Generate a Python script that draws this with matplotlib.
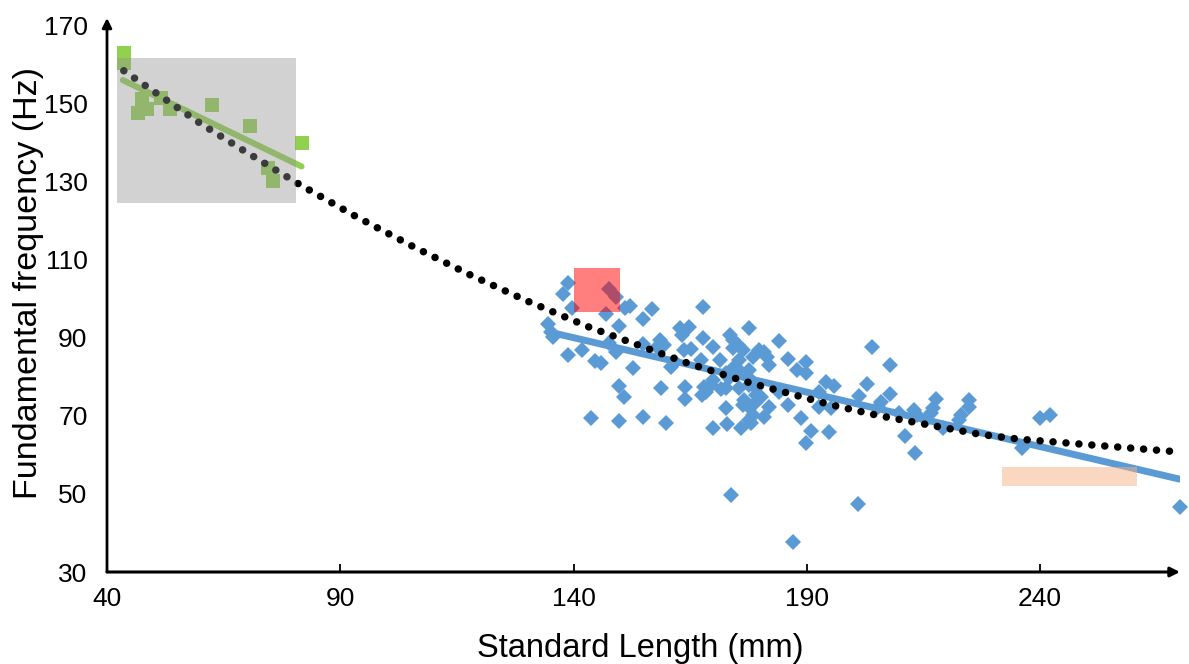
import matplotlib.pyplot as plt
from matplotlib.patches import Rectangle

plt.rcParams["font.family"] = ["Liberation Sans", "DejaVu Sans"]

# Small fish (green squares)
green_x = [43.6, 43.6, 47.6, 46.7, 48.6, 51.6, 53.6, 62.6, 70.6, 74.5, 75.6, 81.7]
green_y = [162.9, 160.2, 151.0, 147.6, 148.4, 151.2, 148.4, 149.5, 144.1, 133.5, 130.1, 139.9]

# Large fish (blue diamonds)
blue_x = [
    138.8, 137.7, 147.7, 149.0, 139.6, 146.9, 151.1, 152.0, 156.8, 154.8,
    149.7, 134.6, 135.1, 135.7, 138.8, 141.9, 144.7, 145.8, 147.6, 149.2,
    152.8, 154.8, 158.6, 159.4, 157.8, 162.8, 164.8, 163.6, 165.2, 160.9,
    161.8, 149.7, 150.8, 158.8, 163.8, 163.8, 143.7, 149.7, 154.8, 159.8,
    163.3, 167.8, 167.8, 169.8, 167.3, 173.6, 174.1, 175.5, 177.7, 178.4,
    168.0, 167.6, 168.4, 172.7, 177.7, 172.7, 176.4, 169.8, 172.8, 175.9,
    177.7, 174.1, 175.2, 176.3, 184.0, 179.8, 180.9, 181.4, 171.3, 185.9,
    189.8, 182.0, 188.0, 189.8, 174.5, 175.5, 177.7, 177.3, 172.7, 173.4,
    169.8, 169.5, 171.6, 175.5, 179.1, 179.1, 184.1, 194.1, 195.9, 192.7,
    176.6, 177.7, 178.8, 180.2, 182.0, 185.9, 178.4, 180.9, 178.1, 188.8,
    192.7, 190.9, 194.8, 189.8, 204.0, 207.9, 203.0, 201.1, 207.9, 205.9,
    205.2, 195.2, 217.8, 217.1, 216.6, 213.0, 213.7, 209.8, 224.8, 224.8,
    223.0, 222.7, 215.5, 219.1, 211.1, 213.2, 240.0, 242.1, 236.1, 270.1,
    173.8, 187.0, 200.9,
]
blue_y = [
    104.0, 101.2, 102.4, 100.5, 97.6, 96.0, 97.6, 98.0, 97.2, 94.7,
    93.0, 93.5, 91.4, 90.1, 85.5, 86.8, 84.1, 83.6, 88.5, 86.4,
    82.1, 88.4, 89.4, 88.1, 87.5, 92.4, 92.8, 86.8, 87.1, 82.4,
    83.7, 77.6, 74.9, 77.0, 77.3, 74.4, 69.3, 68.7, 69.7, 68.1,
    90.7, 97.9, 89.8, 87.7, 84.3, 90.7, 87.3, 84.3, 92.4, 85.1,
    77.4, 75.3, 76.1, 77.0, 77.9, 71.9, 72.7, 66.8, 67.9, 66.8,
    68.9, 89.4, 88.1, 86.8, 89.2, 86.8, 86.4, 85.1, 84.3, 84.4,
    83.8, 83.0, 81.7, 80.9, 82.5, 81.7, 81.7, 80.0, 80.9, 79.6,
    79.1, 77.9, 76.8, 77.0, 77.0, 75.3, 76.1, 78.7, 77.5, 76.1,
    74.0, 72.3, 73.2, 74.9, 72.3, 72.7, 70.2, 69.7, 68.1, 69.3,
    72.3, 66.2, 65.9, 63.1, 87.7, 83.0, 78.1, 75.0, 75.5, 73.6,
    72.3, 71.9, 74.2, 71.9, 70.6, 71.5, 70.2, 70.6, 74.0, 72.3,
    70.2, 68.9, 68.9, 66.8, 64.8, 60.4, 69.3, 70.2, 61.7, 46.6,
    49.7, 37.8, 47.3,
]

# Linear trendlines (end points)
green_fit_x = [43.4, 81.7]
green_fit_y = [155.9, 133.8]
blue_fit_x = [134.9, 269.8]
blue_fit_y = [91.4, 53.8]

# Overall trend (dotted curve)
trend_x = [43.6, 59.9, 69.4, 81.4, 93.5, 105.6, 118.1, 130.4, 143.1,
           163.6, 176.4, 194.8, 205.5, 227.3, 235.5, 269.1]
trend_y = [158.3, 144.9, 137.8, 129.1, 120.9, 113.3, 105.9, 99.2, 92.8,
           83.8, 78.9, 72.9, 70.0, 65.2, 64.0, 60.8]

# Highlighted regions: (x0, x1, y0, y1)
gray_box = (42.1, 80.5, 124.4, 161.6)
red_box = (140.1, 150.0, 96.5, 107.9)
peach_box = (231.9, 260.7, 52.1, 57.0)

x_ticks = [40, 90, 140, 190, 240]
y_ticks = [30, 50, 70, 90, 110, 130, 150, 170]

fig = plt.figure(figsize=(11.89, 6.64), dpi=100)
ax = fig.add_axes([107 / 1189, 92 / 664, 1073 / 1189, 554 / 664])

# Points
ax.plot(blue_x, blue_y, linestyle="none", marker="D", markersize=8.6,
        markeredgewidth=0, color="#5b9bd5", zorder=2, clip_on=False)
ax.plot(green_x, green_y, linestyle="none", marker="s", markersize=9.6,
        markeredgewidth=0, color="#92d050", zorder=2)

# Trendlines
ax.plot(blue_fit_x, blue_fit_y, color="#5b9bd5", linewidth=5.0,
        solid_capstyle="round", zorder=3)
ax.plot(green_fit_x, green_fit_y, color="#92d050", linewidth=4.4,
        solid_capstyle="round", zorder=3)
ax.plot(trend_x, trend_y, color="black", linewidth=5.4,
        linestyle=(0, (0.01, 1.72)), dash_capstyle="round", zorder=4)

# Translucent boxes on top
for (x0, x1, y0, y1), color, alpha in [
    (gray_box, "#929292", 0.41),
    (red_box, "#ff0000", 0.5),
    (peach_box, "#f4b183", 0.5),
]:
    ax.add_patch(Rectangle((x0, y0), x1 - x0, y1 - y0, facecolor=color,
                           edgecolor="none", alpha=alpha, zorder=5))

# Axes
ax.set_xlim(40, 270)
ax.set_ylim(30, 171.8)
for side in ["top", "right", "left", "bottom"]:
    ax.spines[side].set_visible(False)
ax.annotate("", xy=(1.0, 0), xytext=(0, 0), xycoords="axes fraction",
            arrowprops=dict(arrowstyle="-|>", color="black", lw=2.2,
                            mutation_scale=14, shrinkA=0, shrinkB=0))
ax.annotate("", xy=(0, 1.0), xytext=(0, 0), xycoords="axes fraction",
            arrowprops=dict(arrowstyle="-|>", color="black", lw=2.0,
                            mutation_scale=14, shrinkA=0, shrinkB=0))

ax.set_xticks(x_ticks)
ax.set_yticks(y_ticks)
ax.tick_params(axis="x", direction="in", length=6, width=1.3, pad=11,
               labelsize=19)
ax.tick_params(axis="y", length=0, pad=14, labelsize=19)

fig.text(29 / 1189, 1 - 283 / 664, "Fundamental frequency (Hz)",
         rotation=90, ha="center", va="center", fontsize=24.5)
fig.text(640 / 1189, 1 - 648 / 664, "Standard Length (mm)",
         ha="center", va="center", fontsize=23.5)

plt.savefig("out.png", dpi=100)
